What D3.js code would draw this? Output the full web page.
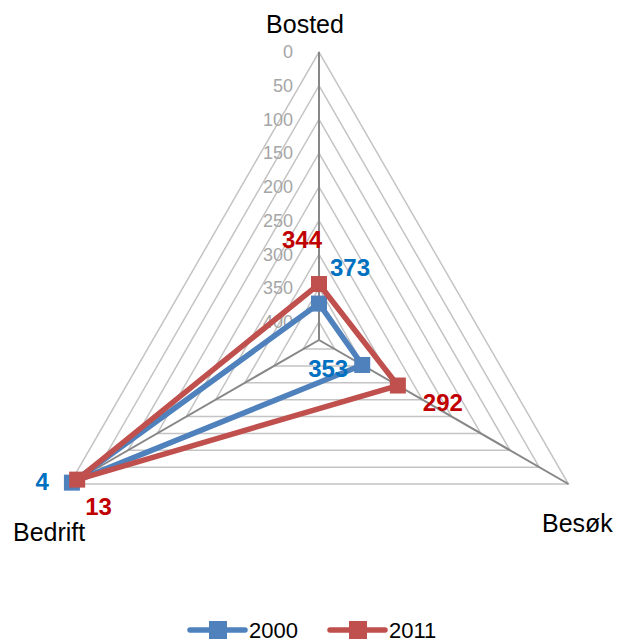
<!DOCTYPE html>
<html>
<head>
<meta charset="utf-8">
<script src="https://cdn.jsdelivr.net/npm/d3@7"></script>
<style>
  body { margin: 0; background: #fff; }
  text { font-family: "Liberation Sans", Arial, sans-serif; }
</style>
</head>
<body>
<svg id="canvas" width="617" height="641"></svg>
<script>
// categories and values
const categories = ["Bosted", "Besøk", "Bedrift"];
const values2000 = [373, 353, 4];
const values2011 = [344, 292, 13];
const seriesNames = ["2000", "2011"];
const tickValues = [0, 50, 100, 150, 200, 250, 300, 350, 400];
const axisMax = 427; // reversed axis: 0 on the rim, max in the middle

const cx = 319, cy = 340, R = 288;
const lineColors = ["#4F81BD", "#C0504D"];
const labelColors = ["#0070C0", "#C00000"];

let svg = d3.select('#canvas');

let r = d3.scaleLinear().domain([0, axisMax]).range([R, 0]);
let angle = d3.scalePoint().domain(categories).range([0, 360 * 2 / 3]);

function pos(cat, v){
    let a = angle(cat) * Math.PI / 180;
    return [cx + r(v) * Math.sin(a), cy - r(v) * Math.cos(a)];
}

// rings (triangles)
svg.selectAll('polygon.ring')
    .data(tickValues)
    .join('polygon')
    .attr('class', 'ring')
    .attr('points', v => categories.map(c => pos(c, v).join(',')).join(' '))
    .attr('fill', 'none')
    .attr('stroke', '#c4c4c4')
    .attr('stroke-width', 1.5);

// spokes
svg.selectAll('line.spoke')
    .data(categories)
    .join('line')
    .attr('class', 'spoke')
    .attr('x1', cx).attr('y1', cy)
    .attr('x2', c => pos(c, 0)[0])
    .attr('y2', c => pos(c, 0)[1])
    .attr('stroke', '#878787')
    .attr('stroke-width', 2);

// tick labels along the top axis
svg.selectAll('text.tick')
    .data(tickValues)
    .join('text')
    .attr('class', 'tick')
    .attr('x', cx - 26)
    .attr('y', v => pos(categories[0], v)[1])
    .attr('dy', '0.35em')
    .attr('text-anchor', 'end')
    .attr('font-size', 18)
    .attr('fill', '#a6a6a6')
    .text(v => v);

// category labels
const catPlace = [
    {x: 305, y: 33, anchor: 'middle'},
    {x: 542, y: 532, anchor: 'start'},
    {x: 13, y: 541, anchor: 'start'}
];
svg.selectAll('text.cat')
    .data(categories)
    .join('text')
    .attr('class', 'cat')
    .attr('x', (d, i) => catPlace[i].x)
    .attr('y', (d, i) => catPlace[i].y)
    .attr('text-anchor', (d, i) => catPlace[i].anchor)
    .attr('font-size', 25)
    .attr('fill', '#000')
    .text(d => d);

// series
let series = [values2000, values2011].map((vals, s) => ({
    name: seriesNames[s],
    points: categories.map((c, i) => ({cat: c, v: vals[i], p: pos(c, vals[i])}))
}));

let line = d3.line().curve(d3.curveLinearClosed);

let groups = svg.selectAll('g.series')
    .data(series)
    .join('g')
    .attr('class', 'series');

groups.append('path')
    .attr('d', d => line(d.points.map(p => p.p)))
    .attr('fill', 'none')
    .attr('stroke', (d, i) => lineColors[i])
    .attr('stroke-width', 5.5)
    .attr('stroke-linejoin', 'round');

groups.selectAll('rect')
    .data((d, i) => d.points.map(p => ({...p, s: i})))
    .join('rect')
    .attr('x', d => d.p[0] - 8)
    .attr('y', d => d.p[1] - 8)
    .attr('width', 16)
    .attr('height', 16)
    .attr('fill', d => lineColors[d.s]);

// data labels, offsets from the point
const labelOffsets = [
    [{dx: 11, dy: -28, anchor: 'start'}, {dx: -14, dy: 12, anchor: 'end'}, {dx: -23, dy: 7, anchor: 'end'}],
    [{dx: -17, dy: -36, anchor: 'middle'}, {dx: 25, dy: 25, anchor: 'start'}, {dx: 8, dy: 35, anchor: 'start'}]
];
series.forEach((s, si) => {
    svg.selectAll('text.lbl' + si)
        .data(s.points)
        .join('text')
        .attr('class', 'lbl' + si)
        .attr('x', (d, i) => d.p[0] + labelOffsets[si][i].dx)
        .attr('y', (d, i) => d.p[1] + labelOffsets[si][i].dy)
        .attr('text-anchor', (d, i) => labelOffsets[si][i].anchor)
        .attr('font-size', 24)
        .attr('font-weight', 'bold')
        .attr('fill', labelColors[si])
        .text(d => d.v);
});

// legend
let legend = svg.selectAll('g.legend')
    .data(seriesNames)
    .join('g')
    .attr('class', 'legend')
    .attr('transform', (d, i) => `translate(${190 + i * 140},630)`);

legend.append('line')
    .attr('x1', 0).attr('x2', 55)
    .attr('y1', 0).attr('y2', 0)
    .attr('stroke', (d, i) => lineColors[i])
    .attr('stroke-width', 5.5)
    .attr('stroke-linecap', 'round');

legend.append('rect')
    .attr('x', 19).attr('y', -9)
    .attr('width', 18).attr('height', 18)
    .attr('fill', (d, i) => lineColors[i]);

legend.append('text')
    .attr('x', 59)
    .attr('y', 8)
    .attr('font-size', 22)
    .attr('fill', '#000')
    .text(d => d);
</script>
</body>
</html>
